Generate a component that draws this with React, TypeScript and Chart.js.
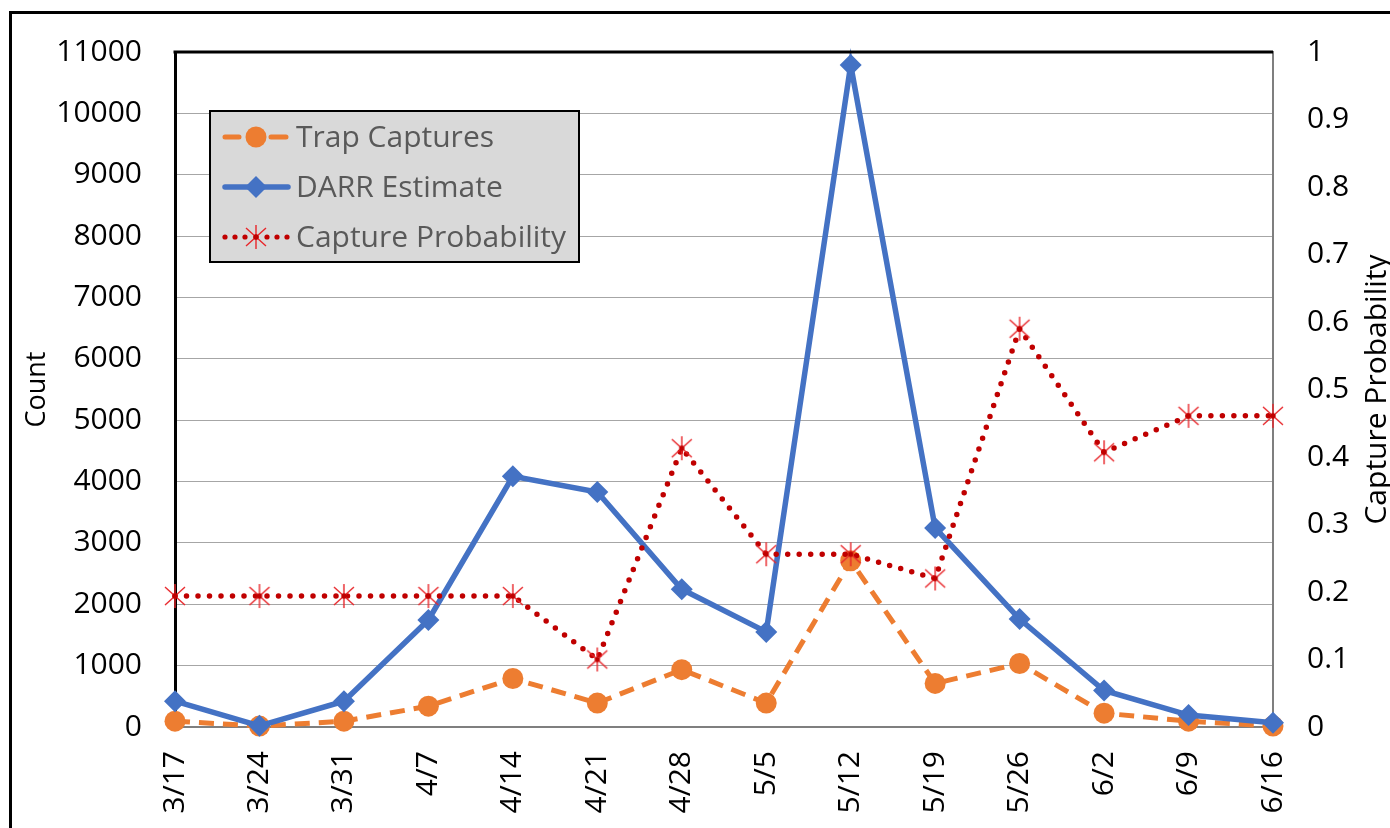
import React, { useEffect, useRef } from "react";
import { Chart, registerables } from "chart.js";

Chart.register(...registerables);

const categories = ["3/17", "3/24", "3/31", "4/7", "4/14", "4/21", "4/28", "5/5", "5/12", "5/19", "5/26", "6/2", "6/9", "6/16"];
const trapCaptures = [95, 15, 95, 340, 790, 390, 935, 390, 2710, 710, 1035, 225, 95, 15];
const darrEstimate = [420, 20, 420, 1745, 4085, 3830, 2245, 1550, 10790, 3245, 1760, 595, 195, 70];
const captureProbability = [0.194, 0.194, 0.194, 0.194, 0.194, 0.1, 0.413, 0.256, 0.256, 0.22, 0.59, 0.407, 0.461, 0.461];
const seriesNames = ["Trap Captures", "DARR Estimate", "Capture Probability"];
const leftTitle = "Count";
const rightTitle = "Capture Probability";

const ORANGE = "#ED7D31";
const BLUE = "#4472C4";
const DARKRED = "#C00000";
const STARRED = "#E8262A";
const FONT = "'Open Sans', sans-serif";

function makeStar(): HTMLCanvasElement {
  const c = document.createElement("canvas");
  c.width = 26;
  c.height = 26;
  const g = c.getContext("2d")!;
  g.strokeStyle = STARRED;
  g.lineWidth = 1.4;
  g.beginPath();
  g.moveTo(13, 1);
  g.lineTo(13, 25);
  g.moveTo(3, 4);
  g.lineTo(23, 22);
  g.moveTo(23, 4);
  g.lineTo(3, 22);
  g.stroke();
  g.fillStyle = DARKRED;
  g.beginPath();
  g.arc(13, 13, 2.7, 0, Math.PI * 2);
  g.fill();
  return c;
}

export default function App() {
  const ref = useRef<HTMLCanvasElement | null>(null);

  useEffect(() => {
    document.body.style.margin = "0";
    const canvas = ref.current!;
    const star = makeStar();

    const decor = {
      id: "decor",
      afterDraw(chart: any) {
        const ctx = chart.ctx as CanvasRenderingContext2D;
        const a = chart.chartArea;
        ctx.save();
        // outer frame
        ctx.strokeStyle = "#000";
        ctx.lineWidth = 3;
        ctx.strokeRect(10.5, 12.5, 1400, 900);
        // top border of plot
        ctx.beginPath();
        ctx.moveTo(a.left - 1.5, a.top);
        ctx.lineTo(a.right, a.top);
        ctx.stroke();
        // axis titles
        ctx.fillStyle = "#000";
        ctx.textAlign = "center";
        ctx.textBaseline = "middle";
        ctx.save();
        ctx.translate(37, (a.top + a.bottom) / 2);
        ctx.rotate(-Math.PI / 2);
        ctx.font = `27px ${FONT}`;
        ctx.fillText(leftTitle, 0, 0);
        ctx.restore();
        ctx.save();
        ctx.translate(1377, (a.top + a.bottom) / 2);
        ctx.rotate(-Math.PI / 2);
        ctx.font = `30px ${FONT}`;
        ctx.fillText(rightTitle, 0, 0);
        ctx.restore();
        // legend
        const lx = 210, ly = 111, lw = 369, lh = 151;
        ctx.fillStyle = "#D9D9D9";
        ctx.fillRect(lx, ly, lw, lh);
        ctx.strokeStyle = "#000";
        ctx.lineWidth = 2;
        ctx.strokeRect(lx, ly, lw, lh);
        const rows = [137, 187, 237];
        // Trap captures
        ctx.strokeStyle = ORANGE;
        ctx.lineWidth = 5;
        ctx.lineCap = "round";
        ctx.beginPath();
        ctx.moveTo(225, rows[0]);
        ctx.lineTo(239, rows[0]);
        ctx.moveTo(271, rows[0]);
        ctx.lineTo(286, rows[0]);
        ctx.stroke();
        ctx.fillStyle = ORANGE;
        ctx.beginPath();
        ctx.arc(256, rows[0], 10.5, 0, Math.PI * 2);
        ctx.fill();
        // DARR
        ctx.strokeStyle = BLUE;
        ctx.lineWidth = 5.5;
        ctx.beginPath();
        ctx.moveTo(225, rows[1]);
        ctx.lineTo(288, rows[1]);
        ctx.stroke();
        ctx.fillStyle = BLUE;
        ctx.beginPath();
        ctx.moveTo(256, rows[1] - 11);
        ctx.lineTo(267, rows[1]);
        ctx.lineTo(256, rows[1] + 11);
        ctx.lineTo(245, rows[1]);
        ctx.closePath();
        ctx.fill();
        // Capture probability
        ctx.fillStyle = DARKRED;
        [225, 235, 245, 256, 267, 277, 287].forEach((x) => {
          ctx.beginPath();
          ctx.arc(x, rows[2], 2.6, 0, Math.PI * 2);
          ctx.fill();
        });
        ctx.drawImage(star, 256 - 13, rows[2] - 13);
        // legend text
        ctx.fillStyle = "#595959";
        ctx.textAlign = "left";
        ctx.textBaseline = "middle";
        ctx.font = `30px ${FONT}`;
        seriesNames.forEach((n, i) => ctx.fillText(n, 296, rows[i] + 1));
        ctx.restore();
      },
    };

    const chart = new Chart(canvas, {
      type: "line",
      data: {
        labels: categories,
        datasets: [
          {
            label: seriesNames[0],
            data: trapCaptures,
            yAxisID: "y",
            borderColor: ORANGE,
            backgroundColor: ORANGE,
            borderWidth: 5,
            borderDash: [15, 9],
            pointStyle: "circle",
            pointRadius: 10.5,
            pointBorderWidth: 0,
            pointBackgroundColor: ORANGE,
            tension: 0,
            clip: false as any,
            order: 2,
          },
          {
            label: seriesNames[1],
            data: darrEstimate,
            yAxisID: "y",
            borderColor: BLUE,
            backgroundColor: BLUE,
            borderWidth: 5.5,
            pointStyle: "rectRot",
            pointRadius: 11,
            pointBorderWidth: 0,
            pointBackgroundColor: BLUE,
            tension: 0,
            clip: false as any,
            order: 1,
          },
          {
            label: seriesNames[2],
            data: captureProbability,
            yAxisID: "y1",
            borderColor: DARKRED,
            backgroundColor: DARKRED,
            borderWidth: 5.5,
            borderDash: [0, 11.5],
            borderCapStyle: "round",
            pointStyle: star as any,
            pointRadius: 12,
            tension: 0,
            clip: false as any,
            order: 0,
          },
        ],
      },
      options: {
        animation: false,
        responsive: false,
        devicePixelRatio: 1,
        layout: { padding: { top: 49, left: 0, right: 0, bottom: 0 } },
        plugins: {
          legend: { display: false },
          tooltip: { enabled: false },
          title: { display: false },
        },
        scales: {
          x: {
            type: "category",
            offset: false,
            grid: { display: false, drawTicks: false },
            border: { color: "#7F7F7F", width: 2 },
            ticks: {
              minRotation: 90,
              maxRotation: 90,
              padding: 24,
              autoSkip: false,
              color: "#000",
              font: { family: FONT, size: 30 },
            },
            afterFit: (s: any) => {
              s.height = 101;
            },
          },
          y: {
            position: "left",
            min: 0,
            max: 11000,
            grid: { color: "#A6A6A6", lineWidth: 1, drawTicks: false },
            border: { color: "#000", width: 3 },
            ticks: {
              stepSize: 1000,
              padding: 33,
              color: "#000",
              font: { family: FONT, size: 30 },
              callback: (v: any) => String(Math.round(Number(v))),
            },
            afterFit: (s: any) => {
              s.width = 175;
            },
          },
          y1: {
            position: "right",
            min: 0,
            max: 1,
            grid: { drawOnChartArea: false, drawTicks: false },
            border: { color: "#7F7F7F", width: 2 },
            ticks: {
              stepSize: 0.1,
              padding: 34,
              color: "#000",
              font: { family: FONT, size: 30 },
              callback: (v: any) => String(Number(Number(v).toFixed(1))),
            },
            afterFit: (s: any) => {
              s.width = 117;
            },
          },
        },
      },
      plugins: [decor],
    });
    return () => chart.destroy();
  }, []);

  return (
    <div style={{ width: 1390, height: 828, position: "relative", background: "#fff" }}>
      <canvas ref={ref} width={1390} height={828} style={{ display: "block" }} />
    </div>
  );
}
